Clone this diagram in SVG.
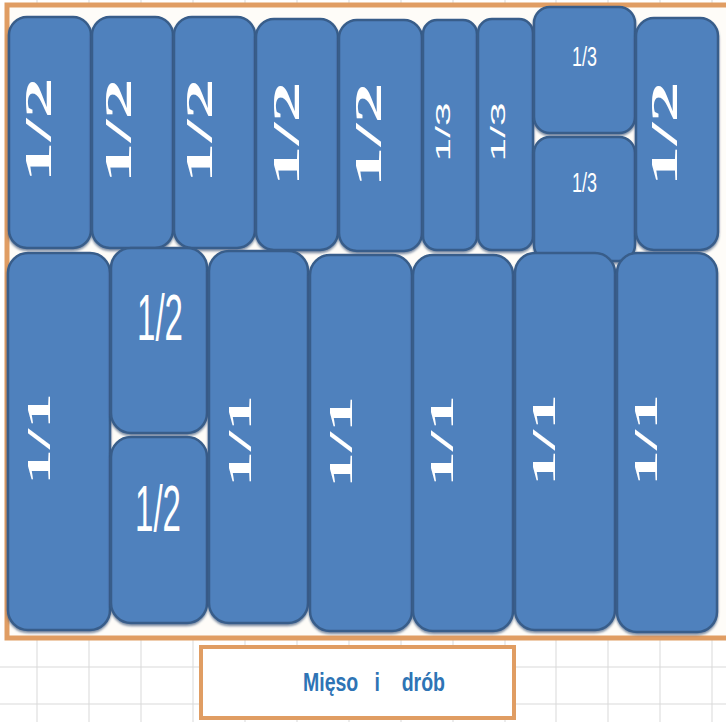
<svg xmlns="http://www.w3.org/2000/svg" width="726" height="722" viewBox="0 0 726 722">
<style>
.grid{stroke:#d9d9d9;stroke-width:1}
.frame{fill:#fefcf8;stroke:#e09d63;stroke-width:5}
.box{fill:#4f81bd;stroke:#385d8a;stroke-width:2.5;filter:url(#sh)}
.serif{font-family:"Liberation Serif","DejaVu Serif",serif;font-weight:bold;fill:#ffffff;text-anchor:middle}
.sans{font-family:"Liberation Sans","Open Sans",sans-serif;fill:#ffffff;text-anchor:middle}
.lbl{font-family:"Liberation Sans","Open Sans",sans-serif;font-weight:bold;fill:#2e74b5;text-anchor:middle}
</style>
<defs>
<filter id="sh" x="-10%" y="-10%" width="120%" height="120%">
<feDropShadow dx="0" dy="2" stdDeviation="1" flood-color="#2c4a70" flood-opacity="0.6"/>
</filter>
</defs>
<rect width="726" height="722" fill="#ffffff"/>
<g id="grid">
<line class="grid" x1="0" y1="667" x2="726" y2="667"/>
<line class="grid" x1="0" y1="704" x2="726" y2="704"/>
<line class="grid" x1="37" y1="0" x2="37" y2="722"/>
<line class="grid" x1="89" y1="0" x2="89" y2="722"/>
<line class="grid" x1="141" y1="0" x2="141" y2="722"/>
<line class="grid" x1="193" y1="0" x2="193" y2="722"/>
<line class="grid" x1="245" y1="0" x2="245" y2="722"/>
<line class="grid" x1="297" y1="0" x2="297" y2="722"/>
<line class="grid" x1="349" y1="0" x2="349" y2="722"/>
<line class="grid" x1="401" y1="0" x2="401" y2="722"/>
<line class="grid" x1="453" y1="0" x2="453" y2="722"/>
<line class="grid" x1="505" y1="0" x2="505" y2="722"/>
<line class="grid" x1="556" y1="0" x2="556" y2="722"/>
<line class="grid" x1="608" y1="0" x2="608" y2="722"/>
<line class="grid" x1="660" y1="0" x2="660" y2="722"/>
<line class="grid" x1="712" y1="0" x2="712" y2="722"/>
</g>
<g id="frame">
<rect class="frame" x="7" y="5" width="724" height="633"/>
</g>
<g id="top1"><rect class="box" x="9" y="17" width="82" height="231" rx="18"/><text class="serif" font-size="37" textLength="105" lengthAdjust="spacingAndGlyphs" transform="translate(51,130) rotate(-90)">1/2</text></g>
<g id="top2"><rect class="box" x="92" y="17" width="81" height="231" rx="18"/><text class="serif" font-size="37" textLength="105" lengthAdjust="spacingAndGlyphs" transform="translate(131,131) rotate(-90)">1/2</text></g>
<g id="top3"><rect class="box" x="174" y="17" width="81" height="231" rx="18"/><text class="serif" font-size="37" textLength="105" lengthAdjust="spacingAndGlyphs" transform="translate(212,131) rotate(-90)">1/2</text></g>
<g id="top4"><rect class="box" x="256" y="19" width="82" height="231" rx="18"/><text class="serif" font-size="37" textLength="105" lengthAdjust="spacingAndGlyphs" transform="translate(299,134) rotate(-90)">1/2</text></g>
<g id="top5"><rect class="box" x="339" y="20" width="83" height="231" rx="18"/><text class="serif" font-size="37" textLength="105" lengthAdjust="spacingAndGlyphs" transform="translate(381,135) rotate(-90)">1/2</text></g>
<g id="top6"><rect class="box" x="423" y="20" width="54" height="230" rx="14"/><text class="sans" font-size="21" textLength="59" lengthAdjust="spacingAndGlyphs" transform="translate(450,132) rotate(-90)">1/3</text></g>
<g id="top7"><rect class="box" x="478" y="19" width="55" height="231" rx="14"/><text class="sans" font-size="21" textLength="59" lengthAdjust="spacingAndGlyphs" transform="translate(505,132) rotate(-90)">1/3</text></g>
<g id="top8a"><rect class="box" x="534" y="7" width="101" height="126" rx="16"/><text class="sans" font-size="28" textLength="25" lengthAdjust="spacingAndGlyphs" x="584.5" y="66">1/3</text></g>
<g id="top8b"><rect class="box" x="534" y="137" width="101" height="124" rx="16"/><text class="sans" font-size="28" textLength="25" lengthAdjust="spacingAndGlyphs" x="584.5" y="192">1/3</text></g>
<g id="top9"><rect class="box" x="636" y="18" width="82" height="232" rx="18"/><text class="serif" font-size="37" textLength="105" lengthAdjust="spacingAndGlyphs" transform="translate(677,134) rotate(-90)">1/2</text></g>
<g id="bot1"><rect class="box" x="8" y="253" width="102" height="377" rx="20"/><text class="serif" font-size="34" textLength="92" lengthAdjust="spacingAndGlyphs" transform="translate(50,439) rotate(-90)">1/1</text></g>
<g id="bot2a"><rect class="box" x="111" y="248" width="96" height="185" rx="20"/><text class="sans" font-size="65" textLength="46" lengthAdjust="spacingAndGlyphs" x="160" y="340">1/2</text></g>
<g id="bot2b"><rect class="box" x="111" y="437" width="96" height="186" rx="20"/><text class="sans" font-size="65" textLength="46" lengthAdjust="spacingAndGlyphs" x="158" y="531">1/2</text></g>
<g id="bot3"><rect class="box" x="209" y="251" width="99" height="372" rx="20"/><text class="serif" font-size="34" textLength="92" lengthAdjust="spacingAndGlyphs" transform="translate(251,441) rotate(-90)">1/1</text></g>
<g id="bot4"><rect class="box" x="310" y="255" width="102" height="376" rx="20"/><text class="serif" font-size="34" textLength="92" lengthAdjust="spacingAndGlyphs" transform="translate(352,442) rotate(-90)">1/1</text></g>
<g id="bot5"><rect class="box" x="413" y="255" width="100" height="376" rx="20"/><text class="serif" font-size="34" textLength="92" lengthAdjust="spacingAndGlyphs" transform="translate(453,441) rotate(-90)">1/1</text></g>
<g id="bot6"><rect class="box" x="515" y="253" width="100" height="377" rx="20"/><text class="serif" font-size="34" textLength="92" lengthAdjust="spacingAndGlyphs" transform="translate(555,440) rotate(-90)">1/1</text></g>
<g id="bot7"><rect class="box" x="617" y="253" width="100" height="379" rx="20"/><text class="serif" font-size="34" textLength="92" lengthAdjust="spacingAndGlyphs" transform="translate(657,440) rotate(-90)">1/1</text></g>
<g id="label">
<rect x="201" y="647" width="313" height="71" fill="#ffffff" stroke="#e09d63" stroke-width="4"/>
<text class="lbl" font-size="25" x="374" y="691" xml:space="preserve" textLength="142" lengthAdjust="spacingAndGlyphs">Mięso   i    drób</text>
</g>
</svg>
